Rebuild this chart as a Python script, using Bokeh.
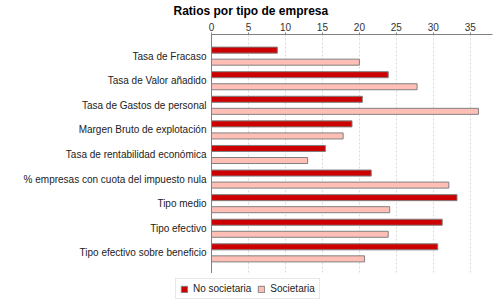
from bokeh.plotting import figure
from bokeh.layouts import column
from bokeh.models import Range1d, FixedTicker, ColumnDataSource, Legend, LegendItem
from bokeh.embed import file_html
from bokeh.resources import INLINE

categories = ["Tasa de Fracaso", "Tasa de Valor añadido", "Tasa de Gastos de personal",
              "Margen Bruto de explotación", "Tasa de rentabilidad económica",
              "% empresas con cuota del impuesto nula", "Tipo medio", "Tipo efectivo",
              "Tipo efectivo sobre beneficio"]
no_societaria = [8.9, 23.9, 20.4, 19.0, 15.4, 21.6, 33.2, 31.2, 30.6]
societaria = [20.0, 27.8, 36.1, 17.8, 13.0, 32.1, 24.1, 23.9, 20.7]
x_ticks = [0, 5, 10, 15, 20, 25, 30, 35]
series_names = ["No societaria", "Societaria"]

FONT = "Liberation Sans"
RED = "#CC0000"
PINK = "#FFBFB6"
GRAY = "#808080"

idx = list(range(len(categories)))
off = 0.245
src = ColumnDataSource(dict(
    y1=[i - off for i in idx], y2=[i + off for i in idx],
    v1=no_societaria, v2=societaria))

p = figure(width=500, height=273, output_backend="svg", toolbar_location=None,
           x_range=Range1d(0, 38.0), y_range=Range1d(start=8.84, end=-0.88),
           x_axis_location="above", min_border_left=211, min_border_right=8,
           min_border_top=34, min_border_bottom=0)
p.frame_align = False

p.title.text = "Ratios por tipo de empresa"
p.title.text_font = FONT
p.title.text_font_size = "12px"
p.title.text_font_style = "bold"
p.title.text_color = "#000000"
p.title.align = "left"
p.title.standoff = 3
p.title.offset = -38

r1 = p.hbar(y="y1", left=0, right="v1", height=0.245, source=src,
            fill_color=RED, line_color=GRAY, line_width=1)
r2 = p.hbar(y="y2", left=0, right="v2", height=0.245, source=src,
            fill_color=PINK, line_color=GRAY, line_width=1)

xa = p.xaxis[0]
xa.ticker = FixedTicker(ticks=x_ticks)
xa.axis_line_color = GRAY
xa.major_tick_line_color = GRAY
xa.major_tick_out = 2
xa.major_tick_in = 0
xa.minor_tick_line_color = None
xa.major_label_text_font = FONT
xa.major_label_text_font_size = "10px"
xa.major_label_text_color = "#333333"
xa.major_label_standoff = 2

ya = p.yaxis[0]
ya.ticker = FixedTicker(ticks=idx)
ya.major_label_overrides = {i: c for i, c in zip(idx, categories)}
ya.axis_line_color = GRAY
ya.major_tick_line_color = None
ya.minor_tick_line_color = None
ya.major_tick_out = 0
ya.major_tick_in = 0
ya.major_label_text_font = FONT
ya.major_label_text_font_size = "10px"
ya.major_label_text_color = "#222222"
ya.major_label_standoff = 5

p.xgrid.grid_line_color = "#D8D8D8"
p.xgrid.grid_line_dash = "2 2"
p.ygrid.grid_line_color = None
p.outline_line_color = None

# legend strip below the chart
p2 = figure(width=500, height=27, output_backend="svg", toolbar_location=None,
            x_range=Range1d(0, 38.0), y_range=Range1d(start=8.84, end=-0.88),
            x_axis_location=None, y_axis_location=None,
            min_border_left=0, min_border_right=0, min_border_top=0, min_border_bottom=0)
p2.frame_align = False
p2.grid.grid_line_color = None
p2.outline_line_color = None
l1 = p2.hbar(y="y1", left=0, right="v1", height=0.245, source=src,
             fill_color=RED, line_color=GRAY, line_width=1, visible=False)
l2 = p2.hbar(y="y2", left=0, right="v2", height=0.245, source=src,
             fill_color=PINK, line_color=GRAY, line_width=1, visible=False)

legend = Legend(items=[LegendItem(label=series_names[0], renderers=[l1]),
                       LegendItem(label=series_names[1], renderers=[l2])],
                orientation="horizontal", location=(175, 1), margin=0,
                padding=4, spacing=6, label_standoff=5,
                glyph_width=8, glyph_height=8, label_height=11, label_width=10,
                label_text_font=FONT, label_text_font_size="10px",
                label_text_color="#222222",
                border_line_color="#D0D0D0", border_line_width=1,
                background_fill_color="white")
p2.add_layout(legend, "center")

layout = column(p, p2, spacing=0)
open("out.html", "w").write(file_html(layout, INLINE))
